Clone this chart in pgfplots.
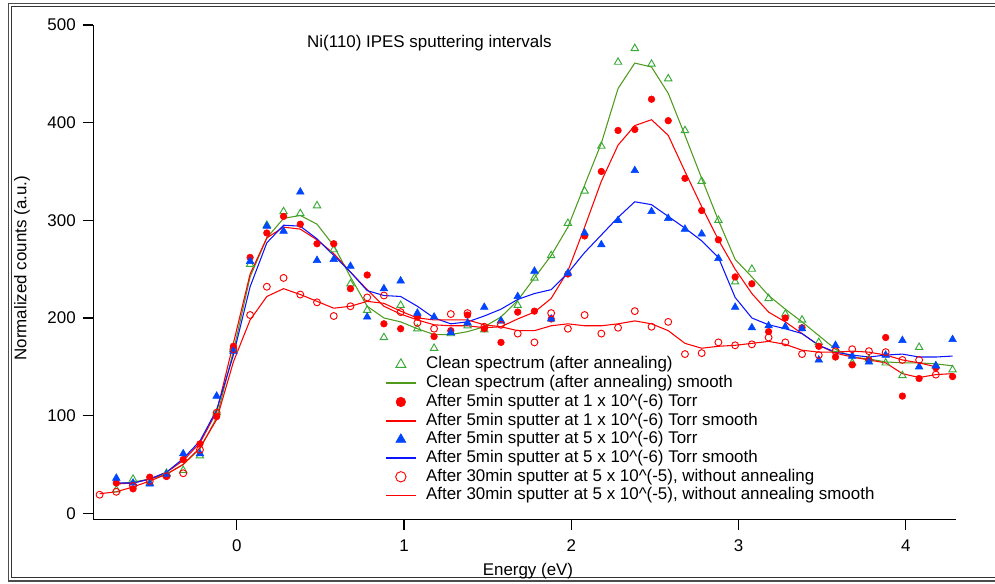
\documentclass[border=0pt]{standalone}
\usepackage{pgfplots}
\pgfplotsset{compat=1.18}
\usepackage{pgfplotstable}
\usepackage{fontspec}
\setmainfont{Liberation Sans}
\definecolor{gM}{RGB}{55,170,55}
\definecolor{gL}{RGB}{80,155,30}
\definecolor{rr}{RGB}{255,0,0}
\definecolor{bM}{RGB}{0,70,255}
\definecolor{bL}{RGB}{10,20,255}

% x, green pts, green smooth, red pts, red smooth, blue pts, blue smooth
\pgfplotstableread{
x g gs r rs b bs
-0.72 24 30 31 30 36 31
-0.62 35 32 25 31 31 31
-0.52 31 35 37 35 30 35
-0.42 41 40 38 42 40 42
-0.32 44 50 55 54 61 56
-0.22 59 66 71 72 61 74
-0.12 103 98 99 104 120 106
-0.02 168 166 171 174 166 162
0.08 255 242 262 245 258 232
0.18 295 282 287 282 294 277
0.28 309 302 304 293 289 295
0.38 307 305 296 291 329 294
0.48 315 296 276 280 259 281
0.58 270 274 276 266 260 264
0.68 235 242 230 247 253 247
0.78 208 212 244 229 201 228
0.88 180 200 194 212 230 223
0.98 213 196 189 204 238 222
1.08 189 189 201 198 205 212
1.18 169 183 181 193 201 200
1.28 184 183 187 192 185 194
1.38 192 186 203 192 195 196
1.48 188 191 189 190 211 202
1.58 197 201 175 191 197 209
1.68 213 218 206 199 222 219
1.78 241 241 207 206 248 225
1.88 264 264 199 220 199 229
1.98 297 293 245 248 246 246
2.08 330 336 284 293 287 267
2.18 376 379 350 340 275 285
2.28 462 435 392 377 300 303
2.38 476 461 393 397 351 319
2.48 460 457 424 403 309 316
2.58 445 430 402 387 302 304
2.68 392 387 343 350 291 292
2.78 340 343 310 314 286 279
2.88 300 300 280 280 261 262
2.98 237 260 242 250 211 221
3.08 250 242 235 225 190 200
3.18 220 223 186 206 192 193
3.28 204 209 200 196 191 189
3.38 198 196 190 184 189 184
3.48 175 182 171 172 157 172
3.58 168 168 160 164 172 165
3.68 154 160 152 160 161 162
3.78 158 158 157 157 155 160
3.88 154 155 180 154 162 162
3.98 141 154 120 143 177 163
4.08 170 154 138 139 150 160
4.18 151 153 149 142 151 160
4.28 147 151 140 143 178 161
}\mainA

% x, open circles, their smooth
\pgfplotstableread{
x o os
-0.82 19 20
-0.72 22 22
-0.62 28 27
-0.52 33 33
-0.42 38 40
-0.32 41 50
-0.22 65 67
-0.12 103 96
-0.02 168 155
0.08 203 198
0.18 232 222
0.28 241 230
0.38 224 224
0.48 216 217
0.58 202 210
0.68 212 212
0.78 221 217
0.88 223 215
0.98 206 207
1.08 195 200
1.18 189 198
1.28 204 198
1.38 205 198
1.48 191 193
1.58 193 191
1.68 184 187
1.78 175 187
1.88 205 192
1.98 189 194
2.08 203 192
2.18 184 192
2.28 190 194
2.38 207 197
2.48 191 194
2.58 196 187
2.68 163 174
2.78 164 169
2.88 175 171
2.98 172 172
3.08 173 174
3.18 180 176
3.28 175 173
3.38 163 167
3.48 162 165
3.58 166 165
3.68 168 166
3.78 166 165
3.88 165 162
3.98 157 157
4.08 157 154
4.18 142 150
}\mainB

\begin{document}
\fontsize{12.7pt}{14pt}\selectfont
\begin{tikzpicture}
\useasboundingbox (0,0) rectangle (746.25pt,437.25pt);
\draw[line width=1.1pt, black!70] (770pt,1.5pt) -- (6.2pt,1.5pt) -- (6.2pt,434.6pt) -- (770pt,434.6pt);
\draw[line width=0.6pt, black!80] (770pt,4.1pt) -- (8.25pt,4.1pt) -- (8.25pt,432.6pt) -- (770pt,432.6pt);
\begin{axis}[
  at={(70pt,47.8pt)}, anchor=south west,
  scale only axis, width=646.8pt, height=370.7pt,
  xmin=-0.8574, xmax=4.299, ymin=-6.14, ymax=500,
  axis lines=left, axis line style={-, line width=0.9pt, black},
  tick align=outside, major tick length=8pt,
  tick style={line width=0.9pt, black},
  xtick={0,1,2,3,4}, ytick={0,100,200,300,400,500},
  minor tick num=0,
  /pgf/number format/assume math mode=true,
  xticklabel style={inner sep=0pt, yshift=-7pt},
  yticklabel style={inner sep=0pt, xshift=-5pt},
  xlabel={Energy (eV)},
  every axis x label/.style={at={(axis description cs:0.504,-0.1147)}, anchor=base},
  ylabel={Normalized counts (a.u.)},
  every axis y label/.style={at={(axis description cs:-0.0827,0.508)}, anchor=center, rotate=90},
  clip=false,
  legend style={draw=none, fill=none, at={(0.3382,0.3292)}, anchor=north west,
    inner sep=0pt, outer sep=0pt,
    nodes={inner sep=0pt, text height=9.3pt, text depth=2.7pt},
    row sep=2.03pt, /tikz/every odd column/.append style={column sep=7pt}},
  legend cell align=left,
]
\addplot[only marks, mark=triangle, mark size=3.2pt, mark options={draw=gM, line width=0.7pt},
  legend image code/.code={\draw[draw=gM, line width=0.7pt] plot[mark=triangle, mark size=4.3pt] coordinates {(11.25pt,0pt)};}]
  table[x=x,y=g] {\mainA};
\addlegendentry{Clean spectrum (after annealing)}
\addplot[draw=gL, line width=0.8pt, mark=none,
  legend image code/.code={\draw[draw=gL, line width=1.3pt] (0pt,0pt) -- (22.5pt,0pt);}]
  table[x=x,y=gs] {\mainA};
\addlegendentry{Clean spectrum (after annealing) smooth}
\addplot[only marks, mark=*, mark size=2.5pt, mark options={draw=rr, fill=rr},
  legend image code/.code={\fill[rr] (11.25pt,0pt) circle (3.6pt);}]
  table[x=x,y=r] {\mainA};
\addlegendentry{After 5min sputter at 1 x 10\textasciicircum(-6) Torr}
\addplot[draw=rr, line width=0.8pt, mark=none,
  legend image code/.code={\draw[draw=rr, line width=1.3pt] (0pt,0pt) -- (22.5pt,0pt);}]
  table[x=x,y=rs] {\mainA};
\addlegendentry{After 5min sputter at 1 x 10\textasciicircum(-6) Torr smooth}
\addplot[only marks, mark=triangle*, mark size=3.3pt, mark options={draw=bM, fill=bM},
  legend image code/.code={\draw[draw=bM, fill=bM] plot[mark=triangle*, mark size=4.3pt, mark options={draw=bM, fill=bM}] coordinates {(11.25pt,0pt)};}]
  table[x=x,y=b] {\mainA};
\addlegendentry{After 5min sputter at 5 x 10\textasciicircum(-6) Torr}
\addplot[draw=bL, line width=0.8pt, mark=none,
  legend image code/.code={\draw[draw=bL, line width=1.3pt] (0pt,0pt) -- (22.5pt,0pt);}]
  table[x=x,y=bs] {\mainA};
\addlegendentry{After 5min sputter at 5 x 10\textasciicircum(-6) Torr smooth}
\addplot[only marks, mark=o, mark size=2.6pt, mark options={draw=rr, line width=0.7pt},
  legend image code/.code={\draw[draw=rr, line width=0.7pt] (11.25pt,0pt) circle (3.9pt);}]
  table[x=x,y=o] {\mainB};
\addlegendentry{After 30min sputter at 5 x 10\textasciicircum(-5), without annealing}
\addplot[draw=rr, line width=0.8pt, mark=none,
  legend image code/.code={\draw[draw=rr, line width=1.3pt] (0pt,0pt) -- (22.5pt,0pt);}]
  table[x=x,y=os] {\mainB};
\addlegendentry{After 30min sputter at 5 x 10\textasciicircum(-5), without annealing smooth}

\node[anchor=base west, inner sep=0pt] at (axis cs:0.420,477) {Ni(110) IPES sputtering intervals};
\end{axis}
\end{tikzpicture}
\end{document}
